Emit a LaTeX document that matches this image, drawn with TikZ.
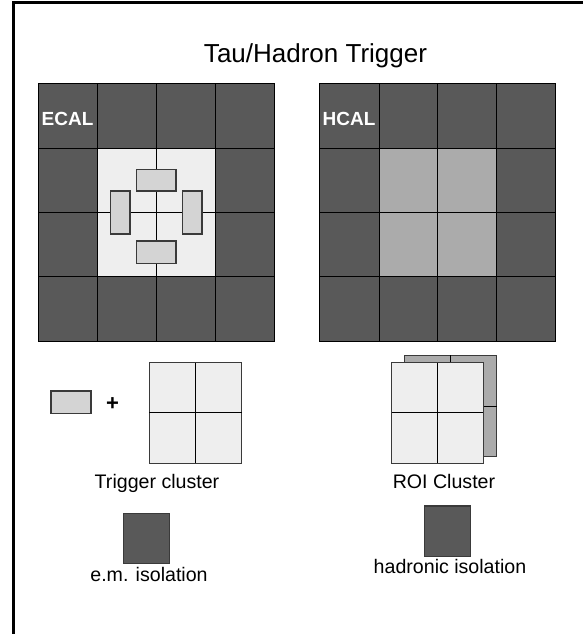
\documentclass[tikz,border=0pt]{standalone}
\usepackage{fontspec}
\setmainfont{Liberation Sans}
\definecolor{darkcell}{HTML}{595959}
\definecolor{lightcell}{HTML}{EEEEEE}
\definecolor{crystal}{HTML}{D4D4D4}
\definecolor{midcell}{HTML}{ABABAB}
\definecolor{edge}{HTML}{3A3A3A}
\begin{document}
\begin{tikzpicture}[x=1pt,y=-1pt,
  gridline/.style={draw=black,line width=0.9pt},
  crystalbox/.style={fill=crystal,draw=edge,line width=1.1pt},
  lbl/.style={font=\fontsize{19.6}{22}\selectfont,anchor=base,inner sep=0pt},
  callbl/.style={font=\fontsize{19}{22}\selectfont\bfseries,text=white,anchor=base west,inner sep=0pt},
  isobox/.style={fill=darkcell,draw=edge,line width=1.1pt}]
\useasboundingbox (0,0) rectangle (583,634);
\clip (0,0) rectangle (583,634);
% frame
\draw[line width=2.6pt] (13.3,2.8) rectangle (600,660);
% title
\node[font=\fontsize{26}{30}\selectfont,anchor=base,inner sep=0pt] (title) at (315.5,62.7) {Tau/Hadron Trigger};
% ECAL grid
\fill[darkcell] (38.3,83.3) rectangle (274,341.7);
\fill[lightcell] (97.3,148.3) rectangle (215.3,276.7);
\draw[gridline] (38.3,83.3) rectangle (274,341.7);
\foreach \x in {97.3,156.3,215.3} \draw[gridline] (\x,83.3) -- (\x,341.7);
\foreach \y in {148.3,212.3,276.7} \draw[gridline] (38.3,\y) -- (274,\y);
\draw[crystalbox] (136.7,169.3) rectangle (176,191);
\draw[crystalbox] (136.7,241) rectangle (176,263.3);
\draw[crystalbox] (110.3,191) rectangle (130,234);
\draw[crystalbox] (182.3,191) rectangle (202,234);
\node[callbl] (ecal) at (41.5,125) {ECAL};
% HCAL grid
\fill[darkcell] (319.3,83.3) rectangle (555.7,341.7);
\fill[midcell] (379,148.3) rectangle (496.7,276.7);
\draw[gridline] (319.3,83.3) rectangle (555.7,341.7);
\foreach \x in {379,437.7,496.7} \draw[gridline] (\x,83.3) -- (\x,341.7);
\foreach \y in {148.3,212.3,276.7} \draw[gridline] (319.3,\y) -- (555.7,\y);
\node[callbl] (hcal) at (322.5,125) {HCAL};
% Trigger cluster legend
\draw[crystalbox] (51,391) rectangle (91,413.3);
\node[font=\fontsize{22}{24}\selectfont\bfseries,inner sep=0pt] (plus) at (112.5,404.3) {+};
\fill[lightcell] (149.3,362.7) rectangle (241.7,463.3);
\draw[gridline,draw=edge] (149.3,362.7) rectangle (241.7,463.3);
\draw[gridline] (195.7,362.7) -- (195.7,463.3);
\draw[gridline] (149.3,412.7) -- (241.7,412.7);
\node[lbl] (trig) at (157,488) {Trigger cluster};
% e.m. isolation
\draw[isobox] (123.3,513.3) rectangle (169.3,563.3);
\node[lbl] (emiso) at (149,581.7) {e.m. isolation};
% ROI cluster: back layer
\fill[midcell] (404.3,355.3) rectangle (496.7,456.7);
\draw[gridline,draw=edge] (404.3,355.3) rectangle (496.7,456.7);
\draw[gridline] (450.7,355.3) -- (450.7,456.7);
\draw[gridline] (404.3,406) -- (496.7,406);
% ROI cluster: front layer
\fill[lightcell] (391.7,362.7) rectangle (483.3,463.3);
\draw[gridline,draw=edge] (391.7,362.7) rectangle (483.3,463.3);
\draw[gridline] (437.7,362.7) -- (437.7,463.3);
\draw[gridline] (391.7,412.7) -- (483.3,412.7);
\node[lbl] (roi) at (444,488) {ROI Cluster};
% hadronic isolation
\draw[isobox] (424.3,506) rectangle (470.7,556.7);
\node[lbl] (hadiso) at (450,573.3) {hadronic isolation};
\end{tikzpicture}
\end{document}
